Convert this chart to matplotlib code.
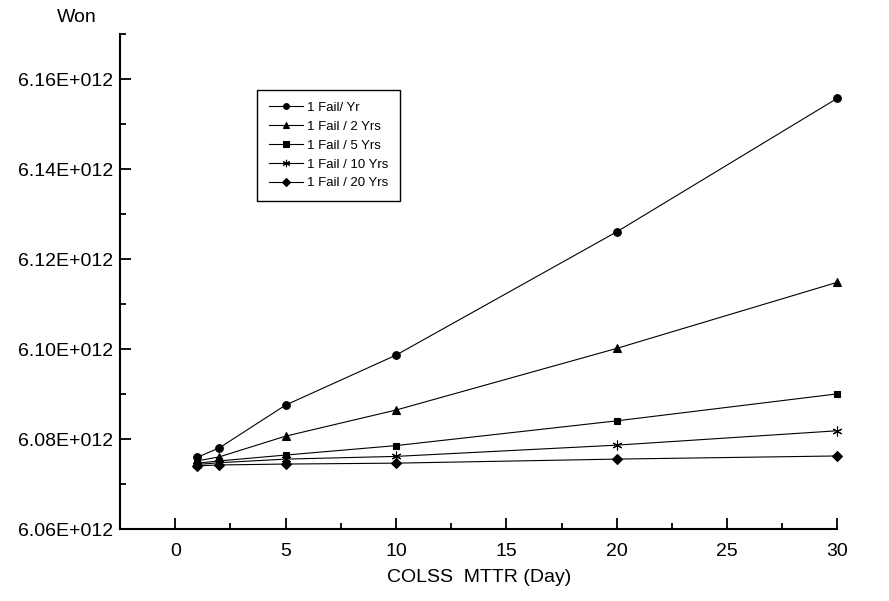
import numpy as np
import matplotlib
matplotlib.use('Agg')
import matplotlib.pyplot as plt
from matplotlib.ticker import MultipleLocator

plt.rcParams['font.family'] = ['Liberation Sans', 'DejaVu Sans']

# data (Won, in units of 1E+012)
mttr = [1, 2, 5, 10, 20, 30]
fail_1yr = [6.0760, 6.0781, 6.0876, 6.0987, 6.1261, 6.1558]
fail_2yr = [6.0752, 6.0761, 6.0807, 6.0865, 6.1002, 6.1149]
fail_5yr = [6.0747, 6.0752, 6.0765, 6.0786, 6.0841, 6.0901]
fail_10yr = [6.0744, 6.0748, 6.0756, 6.0762, 6.0787, 6.0819]
fail_20yr = [6.0741, 6.0743, 6.0745, 6.0747, 6.0756, 6.0763]
labels = ['1 Fail/ Yr', '1 Fail / 2 Yrs', '1 Fail / 5 Yrs', '1 Fail / 10 Yrs', '1 Fail / 20 Yrs']

y_ticks = [6.06, 6.08, 6.10, 6.12, 6.14, 6.16]
y_ticklabels = ['6.06E+012', '6.08E+012', '6.10E+012', '6.12E+012', '6.14E+012', '6.16E+012']
x_ticks = [0, 5, 10, 15, 20, 25, 30]

fig = plt.figure(figsize=(8.89, 6.01), dpi=100)
ax = fig.add_axes([0.135, 0.1193, 0.807, 0.8236])

series = [fail_1yr, fail_2yr, fail_5yr, fail_10yr, fail_20yr]
markers = ['o', '^', 's', (6, 2, 0), 'D']
sizes = [5.5, 6, 5, 7, 5]
for vals, mk, ms, lab in zip(series, markers, sizes, labels):
    ax.plot(mttr, vals, color='black', linewidth=0.8, marker=mk, markersize=ms,
            markeredgewidth=0.8, label=lab, clip_on=False, zorder=3)

ax.set_xlim(-2.5, 30)
ax.set_ylim(6.06, 6.17)
ax.set_xticks(x_ticks)
ax.xaxis.set_minor_locator(MultipleLocator(2.5))
ax.set_yticks(y_ticks)
ax.set_yticklabels(y_ticklabels)
ax.yaxis.set_minor_locator(MultipleLocator(0.01))

ax.spines['top'].set_visible(False)
ax.spines['right'].set_visible(False)
ax.spines['left'].set_linewidth(1.5)
ax.spines['bottom'].set_linewidth(1.5)
ax.tick_params(which='major', direction='in', length=8, width=1.3, labelsize=14)
ax.tick_params(which='minor', direction='in', length=4.5, width=1.3)
ax.tick_params(axis='x', pad=10)
ax.tick_params(axis='y', pad=5)

ax.set_xlabel('COLSS  MTTR (Day)', fontsize=14, labelpad=6)
fig.text(77 / 889, 1 - 18 / 601, 'Won', fontsize=14, ha='center', va='center')

leg = ax.legend(loc='upper left', bbox_to_anchor=(257 / 889, 1 - 90 / 601),
                bbox_transform=fig.transFigure, borderaxespad=0, fontsize=9.5,
                handlelength=2.6, handletextpad=0.3, labelspacing=0.5,
                borderpad=0.9, markerscale=0.75, fancybox=False, framealpha=1)
leg.get_frame().set_edgecolor('black')
leg.get_frame().set_linewidth(1.0)

plt.savefig('out.png', dpi=100)
